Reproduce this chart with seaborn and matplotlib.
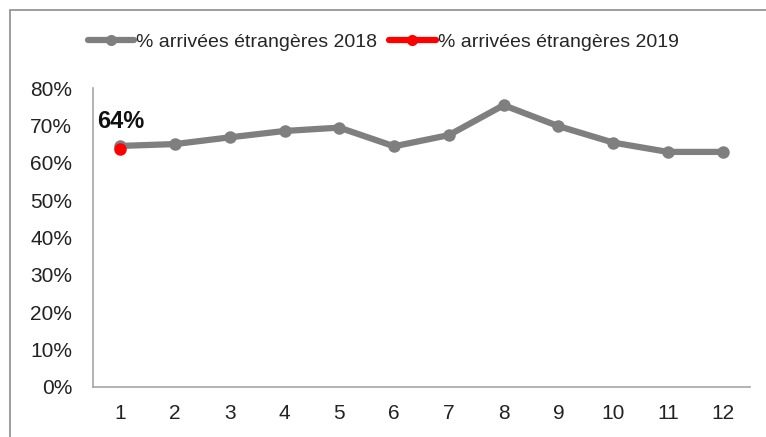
"""Share of foreign arrivals per month, 2018 vs 2019."""

import pandas as pd
import matplotlib.pyplot as plt
import seaborn as sns
from matplotlib.patches import Rectangle
from matplotlib.ticker import PercentFormatter

months = list(range(1, 13))
pct_2018 = [64.5, 65.0, 66.8, 68.5, 69.4, 64.4, 67.4, 75.4, 69.8, 65.4, 62.9, 62.9]
months_2019 = [1]
pct_2019 = [63.6]

label_2018 = "% arrivées étrangères 2018"
label_2019 = "% arrivées étrangères 2019"

df = pd.concat([
    pd.DataFrame({"mois": months, "pct": pct_2018, "serie": label_2018}),
    pd.DataFrame({"mois": months_2019, "pct": pct_2019, "serie": label_2019}),
])

sns.set_style("white")
plt.rcParams["font.family"] = ["Liberation Sans Narrow", "Liberation Sans", "DejaVu Sans"]

fig = plt.figure(figsize=(7.66, 4.37), dpi=100)
ax = fig.add_axes([93 / 766, 50 / 437, 657 / 766, 299 / 437])

sns.lineplot(
    data=df, x="mois", y="pct", hue="serie",
    palette={label_2018: "#7f7f7f", label_2019: "#ff0000"},
    marker="o", markersize=9, markeredgewidth=0, linewidth=4.5,
    ax=ax, legend=False,
)

ax.set_xlim(0.5, 12.5)
ax.set_ylim(0, 80)
ax.set_xticks(months)
ax.set_yticks(range(0, 81, 10))
ax.yaxis.set_major_formatter(PercentFormatter(decimals=0))
ax.tick_params(length=0, labelsize=15, colors="#222222", pad=12)
ax.tick_params(axis="y", pad=15)
ax.set_xlabel("")
ax.set_ylabel("")
for side in ["top", "right"]:
    ax.spines[side].set_visible(False)
for side in ["left", "bottom"]:
    ax.spines[side].set_color("#a6a6a6")
    ax.spines[side].set_linewidth(1.2)

ax.annotate(f"{pct_2019[0]:.0f}%", (months_2019[0], pct_2019[0]),
            xytext=(0, 15), textcoords="offset points", ha="center",
            fontsize=17, fontweight="bold", color="#111111")

handles = [
    plt.Line2D([], [], color="#7f7f7f", lw=4.5, marker="o", ms=8, mew=0),
    plt.Line2D([], [], color="#ff0000", lw=4.5, marker="o", ms=8, mew=0),
]
fig.legend(handles, [label_2018, label_2019], loc="center",
           bbox_to_anchor=(0.5, 1 - 42 / 437), ncol=2, frameon=False,
           fontsize=14, handlelength=2.4, handletextpad=0.1, columnspacing=0.6)

fig.add_artist(Rectangle((10 / 766, -0.1), 1.2, 1.1 - 10 / 437,
                         transform=fig.transFigure, fill=False,
                         edgecolor="#8c8c8c", linewidth=1.2))

fig.savefig("out.png", dpi=100)
